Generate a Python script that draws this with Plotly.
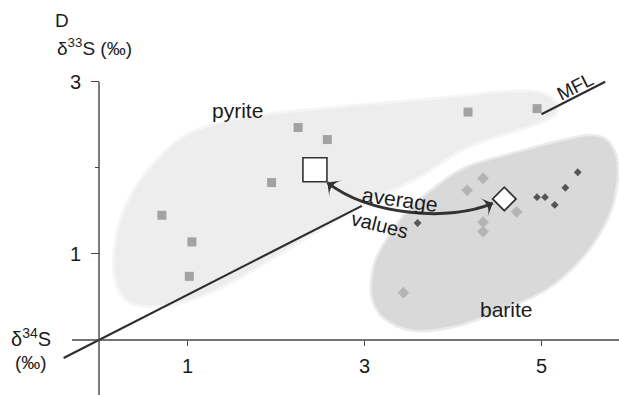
import plotly.graph_objects as go

# ---------------- data ----------------
pyrite_x = [2.25, 2.58, 1.95, 0.71, 1.05, 1.02, 4.17, 4.95]
pyrite_y = [2.47, 2.33, 1.83, 1.45, 1.14, 0.74, 2.65, 2.69]

barite_x = [4.34, 4.16, 4.72, 4.34, 4.34, 3.44]
barite_y = [1.88, 1.74, 1.49, 1.37, 1.26, 0.55]

barite_dark_x = [4.95, 5.04, 5.15, 5.27, 5.41, 3.60]
barite_dark_y = [1.66, 1.66, 1.57, 1.77, 1.95, 1.36]

pyrite_avg = (2.44, 1.98)
barite_avg = (4.58, 1.64)

mfl_slope = 0.525
mfl_seg1 = [-0.40, 2.97]
mfl_seg2 = [5.00, 5.72]

x_ticks = [1, 3, 5]
y_ticks = [1, 3]
y_minor = [2]

# region outlines (hand-drawn fields)
pyrite_field_x = [0.88, 1.48, 2.27, 3.77, 4.76, 5.12, 5.07, 4.19, 3.63, 2.95, 2.05, 1.37, 0.80, 0.33, 0.18, 0.35]
pyrite_field_y = [2.29, 2.54, 2.65, 2.79, 2.88, 2.79, 2.58, 2.27, 1.92, 1.57, 1.02, 0.62, 0.42, 0.47, 0.91, 1.63]
barite_field_x = [3.23, 3.46, 3.77, 4.16, 4.79, 5.24, 5.55, 5.75, 5.85, 5.81, 5.68, 5.44, 5.07, 4.53, 4.02, 3.57, 3.23, 3.09, 3.12]
barite_field_y = [1.11, 1.45, 1.74, 2.00, 2.19, 2.31, 2.37, 2.30, 2.04, 1.63, 1.30, 0.95, 0.61, 0.35, 0.17, 0.12, 0.26, 0.52, 0.87]

X_RANGE = [-1.119, 5.876]
Y_RANGE = [-0.640, 3.953]
FONT = "Liberation Sans, Arial, Helvetica, sans-serif"
INK = "#1c1c1c"


def smooth_closed_path(xs, ys):
    n = len(xs)
    d = f"M{xs[0]},{ys[0]}"
    for i in range(n):
        x0, y0 = xs[(i - 1) % n], ys[(i - 1) % n]
        x1, y1 = xs[i], ys[i]
        x2, y2 = xs[(i + 1) % n], ys[(i + 1) % n]
        x3, y3 = xs[(i + 2) % n], ys[(i + 2) % n]
        c1x, c1y = x1 + (x2 - x0) / 6, y1 + (y2 - y0) / 6
        c2x, c2y = x2 - (x3 - x1) / 6, y2 - (y3 - y1) / 6
        d += f" C{c1x:.4f},{c1y:.4f} {c2x:.4f},{c2y:.4f} {x2},{y2}"
    return d + " Z"


fig = go.Figure()

shapes = []
# pyrite field (soft edge + body)
pyr_path = smooth_closed_path(pyrite_field_x, pyrite_field_y)
shapes.append(dict(type="path", path=pyr_path, xref="x", yref="y", fillcolor="#ededed",
                   line=dict(color="rgba(237,237,237,0.55)", width=6), layer="below"))
# MFL line segments
for seg in (mfl_seg1, mfl_seg2):
    shapes.append(dict(type="line", xref="x", yref="y", x0=seg[0], y0=mfl_slope * seg[0],
                       x1=seg[1], y1=mfl_slope * seg[1], line=dict(color="#2e2e2e", width=2.2), layer="below"))
# barite field
bar_path = smooth_closed_path(barite_field_x, barite_field_y)
shapes.append(dict(type="path", path=bar_path, xref="x", yref="y", fillcolor="#d9d9d9",
                   line=dict(color="rgba(217,217,217,0.55)", width=5), layer="below"))
# axes lines
shapes.append(dict(type="line", xref="x", yref="y", x0=-0.305, y0=0, x1=X_RANGE[1], y1=0,
                   line=dict(color="#444444", width=1.4)))
shapes.append(dict(type="line", xref="x", yref="y", x0=0, y0=3, x1=0, y1=Y_RANGE[0],
                   line=dict(color="#444444", width=1.4)))

# curved double arrow between averages
p0 = (pyrite_avg[0] + 0.14, pyrite_avg[1] - 0.15)
p3 = (barite_avg[0] - 0.13, barite_avg[1] - 0.05)
c1 = (3.06, 1.45)
c2 = (3.97, 1.37)
shapes.append(dict(type="path", xref="x", yref="y",
                   path=f"M{p0[0]},{p0[1]} C{c1[0]},{c1[1]} {c2[0]},{c2[1]} {p3[0]},{p3[1]}",
                   line=dict(color="#333333", width=3)))

fig.add_trace(go.Scatter(x=pyrite_x, y=pyrite_y, mode="markers",
                         marker=dict(symbol="square", size=9, color="#a2a2a2"), hoverinfo="skip"))
fig.add_trace(go.Scatter(x=barite_x, y=barite_y, mode="markers",
                         marker=dict(symbol="diamond", size=9, color="#b4b4b4"), hoverinfo="skip"))
fig.add_trace(go.Scatter(x=barite_dark_x, y=barite_dark_y, mode="markers",
                         marker=dict(symbol="diamond", size=6, color="#555555"), hoverinfo="skip"))
fig.add_trace(go.Scatter(x=[pyrite_avg[0]], y=[pyrite_avg[1]], mode="markers",
                         marker=dict(symbol="square", size=24, color="white",
                                     line=dict(color="#333333", width=1.6)), hoverinfo="skip"))
fig.add_trace(go.Scatter(x=[barite_avg[0]], y=[barite_avg[1]], mode="markers",
                         marker=dict(symbol="diamond", size=18, color="white",
                                     line=dict(color="#333333", width=1.8)), hoverinfo="skip"))
# arrow heads (tip at the curve ends)
fig.add_trace(go.Scatter(x=[p0[0], p3[0]], y=[p0[1], p3[1]], mode="markers",
                         marker=dict(symbol="arrow-wide", size=15, angle=[-53, 66], color="#333333",
                                     line=dict(width=0)), hoverinfo="skip"))

ann = []


def label(text, x, y, size=20, angle=0):
    ann.append(dict(x=x, y=y, xref="x", yref="y", text=text, showarrow=False, textangle=angle,
                    font=dict(family=FONT, size=size, color=INK), xanchor="center", yanchor="middle"))


label("pyrite", 1.56, 2.67, 21)
label("barite", 4.61, 0.35, 21)
label("average", 3.40, 1.63, 21, 8)
label("values", 3.18, 1.34, 20, 14)
label("MFL", 5.38, 2.95, 19, -27)
label("D", -0.42, 3.72, 19)
label("δ<sup>33</sup>S (‰)", -0.05, 3.41, 19)
label("δ<sup>34</sup>S", -0.77, 0.03, 20)
label("(‰)", -0.77, -0.26, 19)

fig.update_layout(
    width=619, height=395, margin=dict(l=0, r=0, t=0, b=0),
    paper_bgcolor="white", plot_bgcolor="white", showlegend=False,
    shapes=shapes, annotations=ann,
    xaxis=dict(range=X_RANGE, anchor="free", position=(0 - Y_RANGE[0]) / (Y_RANGE[1] - Y_RANGE[0]),
               tickvals=x_ticks, ticktext=[str(v) for v in x_ticks], ticks="outside", ticklen=5,
               tickcolor="#444444", showgrid=False, zeroline=False, showline=False,
               tickfont=dict(family=FONT, size=20, color=INK), ticklabelstandoff=3, fixedrange=True),
    yaxis=dict(range=Y_RANGE, anchor="free", position=(0 - X_RANGE[0]) / (X_RANGE[1] - X_RANGE[0]),
               tickvals=y_ticks, ticktext=[str(v) for v in y_ticks], ticks="outside", ticklen=8,
               tickcolor="#444444", showgrid=False, zeroline=False, showline=False,
               minor=dict(tickvals=y_minor, ticks="outside", ticklen=4, tickcolor="#444444"),
               tickfont=dict(family=FONT, size=20, color=INK), ticklabelstandoff=6, fixedrange=True),
)

fig.write_html("out.html")
